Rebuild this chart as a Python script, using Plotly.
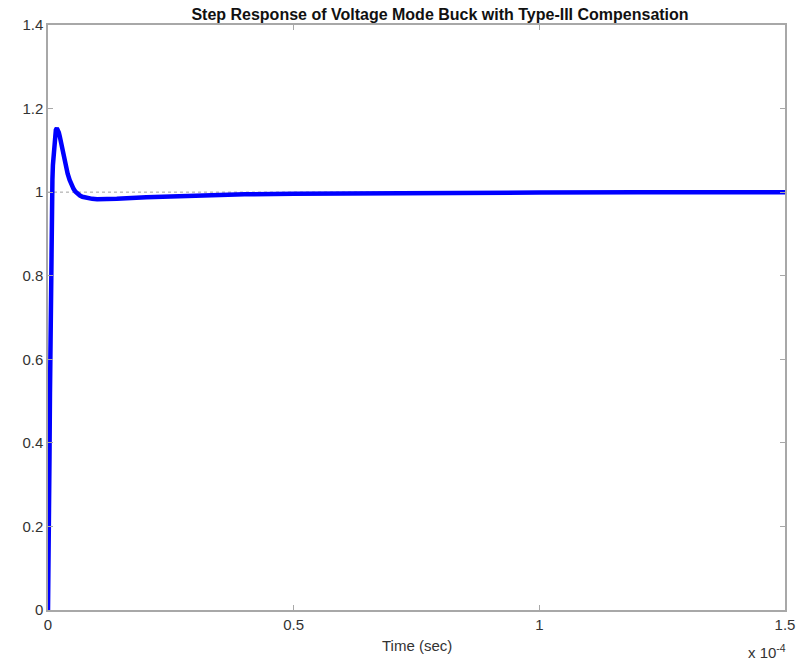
import plotly.graph_objects as go

# Closed-loop step response of the voltage-mode buck (Type-III compensated)
t_us = [0, 0.1, 0.2, 0.3, 0.4, 0.5, 0.6, 0.7, 0.8, 0.9, 1.0, 1.2, 1.4, 1.6,
        1.8, 2.0, 2.2, 2.4, 2.6, 2.8, 3.0, 3.3, 3.6, 4.0, 4.4, 4.8, 5.2, 5.6,
        6.0, 6.5, 7.0, 8.0, 9.0, 10.0, 12.0, 14.0, 20.0, 30.0, 40.0, 50.0,
        60.0, 80.0, 100.0, 120.0, 150.0]
v_out = [0, 0.08, 0.21, 0.36, 0.52, 0.67, 0.80, 0.90, 0.98, 1.03, 1.065,
         1.110, 1.136, 1.149, 1.153, 1.150, 1.143, 1.133, 1.121, 1.108, 1.096,
         1.078, 1.062, 1.044, 1.029, 1.017, 1.008, 1.001, 0.996, 0.992, 0.989,
         0.986, 0.984, 0.983, 0.983, 0.984, 0.988, 0.992, 0.995, 0.996, 0.997,
         0.998, 0.999, 0.9995, 1.0]

x_ticks = [0, 0.5e-4, 1.0e-4, 1.5e-4]
x_labels = ["0", "0.5", "1", "1.5"]
y_ticks = [0, 0.2, 0.4, 0.6, 0.8, 1.0, 1.2, 1.4]
y_labels = ["0", "0.2", "0.4", "0.6", "0.8", "1", "1.2", "1.4"]

t_sec = [v * 1e-6 for v in t_us]

FONT = "Arial, Liberation Sans, sans-serif"

fig = go.Figure()

# steady-state reference line
fig.add_trace(go.Scatter(
    x=[0, 1.5e-4], y=[1, 1], mode="lines",
    line=dict(color="#a0a0a0", width=1, dash="dot"),
    hoverinfo="skip", showlegend=False,
))

fig.add_trace(go.Scatter(
    x=t_sec, y=v_out, mode="lines",
    line=dict(color="#0000ff", width=4.5),
    showlegend=False,
))

axis_common = dict(
    showline=True, linecolor="#a8a8a8", linewidth=1.5, mirror="ticks",
    ticks="inside", ticklen=5, tickcolor="#a8a8a8", tickwidth=1,
    showgrid=False, zeroline=False,
    tickfont=dict(family=FONT, size=15, color="#333333"),
)

fig.update_xaxes(range=[0, 1.5e-4], tickvals=x_ticks, ticktext=x_labels, **axis_common)
fig.update_yaxes(range=[0, 1.4], tickvals=y_ticks, ticktext=y_labels, **axis_common)

fig.update_layout(
    width=807, height=660,
    margin=dict(l=48, r=17, t=25, b=50),
    paper_bgcolor="white", plot_bgcolor="white",
    title=dict(
        text="<b>Step Response of Voltage Mode Buck with Type-III Compensation</b>",
        x=440 / 807, xanchor="center",
        y=1 - 14 / 660, yanchor="middle",
        font=dict(family=FONT, size=16, color="#111111"),
    ),
    annotations=[
        dict(text="Time (sec)", xref="paper", yref="paper", x=0.5, y=-(645 - 610) / 585,
             xanchor="center", yanchor="middle", showarrow=False,
             font=dict(family=FONT, size=15, color="#333333")),
        dict(text="x 10<sup>-4</sup>", xref="paper", yref="paper", x=1.004, y=-(651 - 610) / 585,
             xanchor="right", yanchor="middle", showarrow=False,
             font=dict(family=FONT, size=15, color="#333333")),
    ],
)

fig.write_html("out.html")
